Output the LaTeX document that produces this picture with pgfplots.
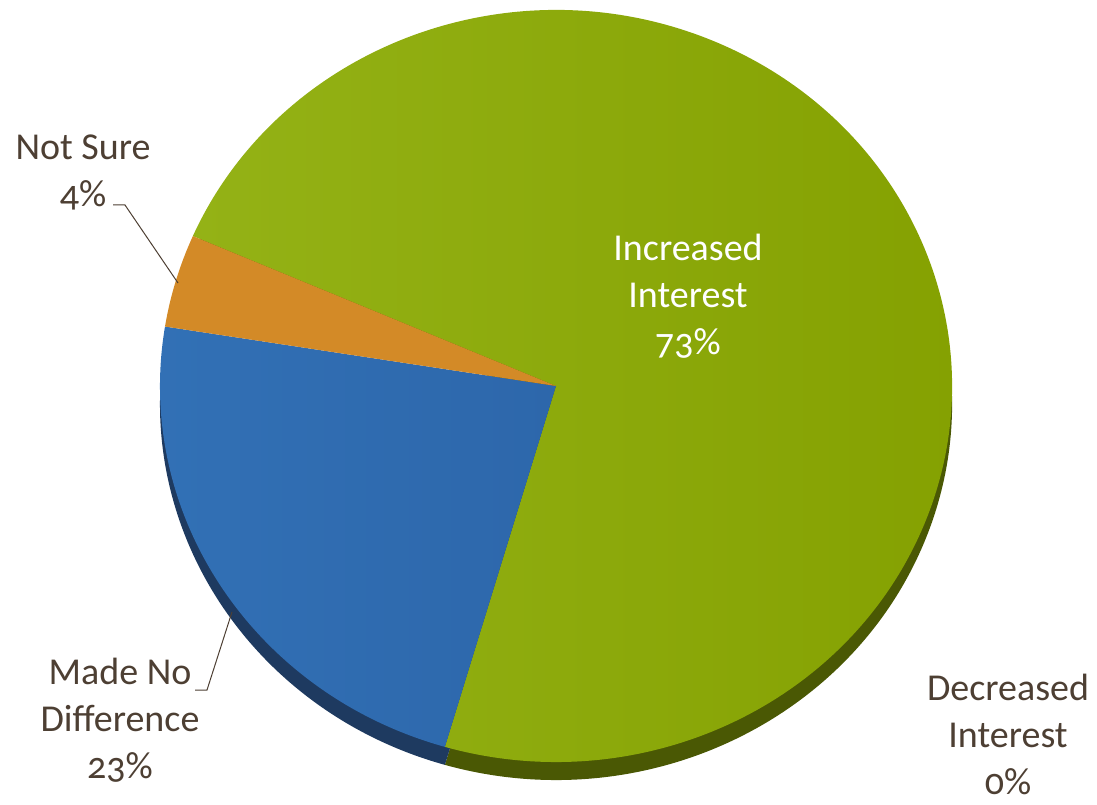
\documentclass[border=0pt]{standalone}
\usepackage{fontspec}
\setmainfont{Carlito}[Numbers=OldStyle]
\usepackage{pgfplots}
\pgfplotsset{compat=1.18}
\definecolor{incgreen}{HTML}{8AA60A}
\definecolor{incgreenL}{HTML}{94B216}
\definecolor{incgreenR}{HTML}{84A000}
\definecolor{madeblue}{HTML}{3271B6}
\definecolor{madeblueR}{HTML}{2D67AB}
\definecolor{notorange}{HTML}{D38A27}
\definecolor{sidegreen}{HTML}{4A5804}
\definecolor{sideblue}{HTML}{1E3A60}
\definecolor{labeltext}{HTML}{4D3F33}

% shares (percent), clockwise from the first slice
\def\pInc{73}
\def\pDec{0}
\def\pMade{23}
\def\pNot{4}
\pgfmathsetmacro\aA{156.5}
\pgfmathsetmacro\aB{\aA-3.6*\pInc}
\pgfmathsetmacro\aC{\aB-3.6*\pDec}
\pgfmathsetmacro\aD{\aC-3.6*\pMade}
\pgfmathsetmacro\aE{\aD-3.6*\pNot}

\begin{document}
\begin{tikzpicture}
\begin{axis}[hide axis, scale only axis, clip=false,
  x=0.5pt, y=0.5pt, xmin=0, xmax=1097, ymin=0, ymax=804]
\addplot[draw=none] coordinates {(0,0) (1097,804)};

% depth of the pie (side)
\fill[sidegreen] (axis cs:556,400) -- ++(\aA:198pt and 188pt)
  arc[start angle=\aA, end angle=\aB, x radius=198pt, y radius=188pt] -- cycle;
\fill[sideblue] (axis cs:556,400) -- ++(\aC:198pt and 188pt)
  arc[start angle=\aC, end angle=\aD, x radius=198pt, y radius=188pt] -- cycle;

% top face
\shade[left color=incgreenL, right color=incgreenR] (axis cs:556,418) -- ++(\aA:198pt and 188pt)
  arc[start angle=\aA, end angle=\aB, x radius=198pt, y radius=188pt] -- cycle;
\shade[left color=madeblue, right color=madeblueR] (axis cs:556,418) -- ++(\aC:198pt and 188pt)
  arc[start angle=\aC, end angle=\aD, x radius=198pt, y radius=188pt] -- cycle;
\fill[notorange] (axis cs:556,418) -- ++(\aD:198pt and 188pt)
  arc[start angle=\aD, end angle=\aE, x radius=198pt, y radius=188pt] -- cycle;

% leader lines
\addplot[labeltext, line width=0.5pt] coordinates {(113,599) (125,599) (178,521)};
\addplot[labeltext, line width=0.5pt] coordinates {(195,114) (207,114) (232,192)};

% labels
\tikzset{lbl/.style={align=center, font=\fontsize{19}{23.5}\selectfont, text=labeltext, inner sep=0pt}}
\node[lbl, text=white] at (axis cs:688,508) {Increased\\Interest\\73\%};
\node[lbl] at (axis cs:83,632) {Not Sure\\4\%};
\node[lbl] at (axis cs:120,84) {Made No\\Difference\\23\%};
\node[lbl] at (axis cs:1008,70) {Decreased\\Interest\\0\%};
\end{axis}
\pgfresetboundingbox
\path (current axis.south west) rectangle (current axis.north east);
\end{tikzpicture}
\end{document}
